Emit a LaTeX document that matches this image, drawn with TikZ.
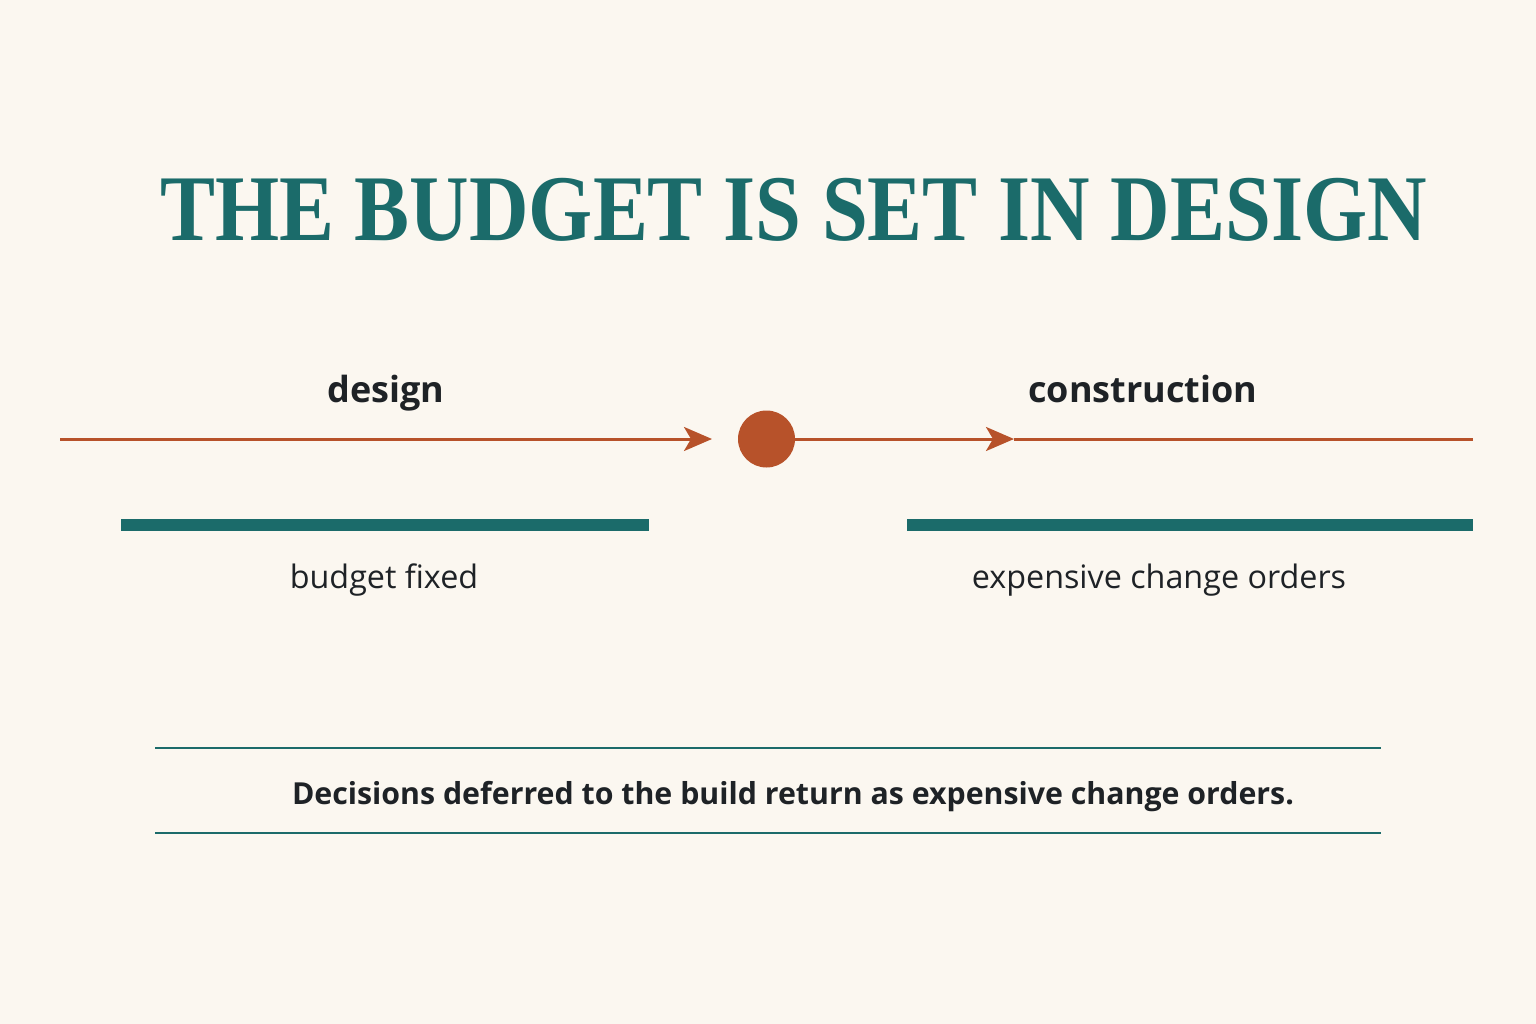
\documentclass[tikz,border=0pt]{standalone}
\usepackage{fontspec}
\setmainfont{Liberation Serif}
\newfontfamily\sansf{Open Sans}
\usetikzlibrary{arrows.meta}
\definecolor{bgc}{HTML}{FBF7F0}
\definecolor{tealc}{HTML}{1B6B6A}
\definecolor{orng}{HTML}{B7522A}
\definecolor{ink}{HTML}{1E2226}
\tikzset{
  titletext/.style={anchor=base, text=tealc, inner sep=0pt, font=\fontsize{94}{94}\selectfont\bfseries},
  phase/.style={anchor=base, text=ink, inner sep=0pt, font=\sansf\fontsize{36}{36}\selectfont\bfseries},
  note/.style={anchor=base, text=ink, inner sep=0pt, font=\sansf\fontsize{32.3}{32}\selectfont},
  caption/.style={anchor=base, text=ink, inner sep=0pt, font=\sansf\fontsize{30.3}{31}\selectfont\bfseries},
  flow/.style={draw=orng, line width=3pt},
  flowarrow/.style={flow, -{Stealth[length=28pt, width=24pt, inset=7pt]}},
  dotnode/.style={circle, fill=orng, minimum size=57pt, inner sep=0pt},
  bar/.style={draw=tealc, line width=12pt},
  rule/.style={draw=tealc, line width=2.5pt},
}
\begin{document}
\begin{tikzpicture}[x=1pt, y=-1pt]
\fill[bgc] (0,0) rectangle (1536,1024);
\useasboundingbox (0,0) rectangle (1536,1024);

\node[titletext] (title) at (793.5,241) {\scalebox{0.877}[1]{THE BUDGET IS SET IN DESIGN}};

\node[phase] (design) at (386,402) {design};
\node[phase] (construction) at (1143,402) {construction};

\coordinate (start) at (60,439);
\coordinate (tip1) at (712,439);
\node[dotnode] (dot) at (766.5,439) {};
\coordinate (tip2) at (1014,439);
\coordinate (finish) at (1473,439);
\draw[flowarrow] (start) -- (tip1);
\draw[flowarrow] (dot.east) -- (tip2);
\draw[flow] (tip2) -- (finish);

\coordinate (b1s) at (121,525);
\coordinate (b1e) at (649,525);
\coordinate (b2s) at (907,525);
\coordinate (b2e) at (1473,525);
\draw[bar] (b1s) -- (b1e);
\draw[bar] (b2s) -- (b2e);

\node[note] (fixed) at (384,588) {budget fixed};
\node[note] (orders) at (1159,588) {expensive change orders};

\coordinate (r1s) at (155,748);
\coordinate (r1e) at (1381,748);
\coordinate (r2s) at (155,833);
\coordinate (r2e) at (1381,833);
\draw[rule] (r1s) -- (r1e);
\draw[rule] (r2s) -- (r2e);
\node[caption] (cap) at (793,804) {Decisions deferred to the build return as expensive change orders.};
\end{tikzpicture}
\end{document}
